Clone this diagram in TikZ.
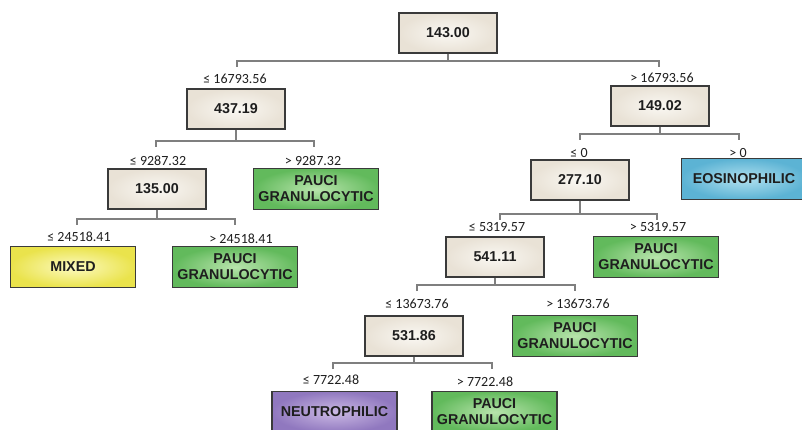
\documentclass[tikz,border=0pt]{standalone}
\usepackage{fontspec}
\setmainfont{Liberation Sans}
\newfontfamily\lblfont{Carlito}
\definecolor{connc}{HTML}{7F7F7F}
\definecolor{edgec}{HTML}{3A3A3A}
\definecolor{txtc}{HTML}{1E1E1E}
\definecolor{valin}{HTML}{FAF8F3}
\definecolor{valout}{HTML}{E9E2D6}
\definecolor{grin}{HTML}{B8E4AC}
\definecolor{grout}{HTML}{62BA5C}
\definecolor{yein}{HTML}{FCFAC0}
\definecolor{yeout}{HTML}{EAE34C}
\definecolor{blin}{HTML}{B0E0EF}
\definecolor{blout}{HTML}{5CB3D4}
\definecolor{puin}{HTML}{CBB9E4}
\definecolor{puout}{HTML}{9078BF}
\begin{document}
\begin{tikzpicture}[x=1pt,y=-1pt,
  box/.style={draw=edgec,line width=1.1pt,minimum width=98pt,minimum height=40pt,inner sep=0pt,align=center,
     font=\fontsize{14.3}{16}\selectfont\bfseries,text=txtc},
  valbox/.style={box,inner color=valin,outer color=valout},
  cls/.style={box,minimum width=125pt,minimum height=41pt},
  green/.style={cls,inner color=grin,outer color=grout},
  yel/.style={cls,inner color=yein,outer color=yeout},
  blu/.style={cls,inner color=blin,outer color=blout},
  pur/.style={cls,inner color=puin,outer color=puout},
  lbl/.style={font=\lblfont\fontsize{14}{16}\selectfont,text=txtc,inner sep=0pt},
  conn/.style={draw=connc,line width=1.4pt}]
\useasboundingbox (0,0) rectangle (802,430);
% nodes
\node[valbox] (root) at (448,33) {143.00};
\node[valbox] (n2) at (236,109) {437.19};
\node[valbox] (n3) at (660,106) {149.02};
\node[valbox] (n4) at (157,189) {135.00};
\node[green] (p1) at (316,189) {PAUCI\\GRANULOCYTIC};
\node[valbox] (n5) at (580,180) {277.10};
\node[blu] (eos) at (744,179) {EOSINOPHILIC};
\node[yel] (mix) at (73,267) {MIXED};
\node[green] (p2) at (235,267) {PAUCI\\GRANULOCYTIC};
\node[valbox] (n6) at (495,257) {541.11};
\node[green] (p3) at (656,257) {PAUCI\\GRANULOCYTIC};
\node[valbox] (n7) at (414,336) {531.86};
\node[green] (p4) at (575,336) {PAUCI\\GRANULOCYTIC};
\node[pur] (neu) at (334.5,412) {NEUTROPHILIC};
\node[green] (p5) at (494.5,412) {PAUCI\\GRANULOCYTIC};
% connector ends
\coordinate (rL) at (237,67); \coordinate (rR) at (659,67);
\coordinate (aL) at (156,147); \coordinate (aR) at (314,147);
\coordinate (bL) at (580,140); \coordinate (bR) at (739,140);
\coordinate (cL) at (77,225); \coordinate (cR) at (235,225);
\coordinate (dL) at (500,220); \coordinate (dR) at (657,220);
\coordinate (eL) at (417,291); \coordinate (eR) at (575,291);
\coordinate (fL) at (333,369); \coordinate (fR) at (492,369);
\foreach \p/\e in {root/r,n2/a,n3/b,n4/c,n5/d,n6/e,n7/f}{
  \draw[conn] (\e L) -- ++(0,-6) coordinate (\e T) -- (\e R |- \e T) -- (\e R);
  \draw[conn] (\p.south) -- (\p.south |- \e T);
}
% labels
\node[lbl] (l1) at (235,79) {≤ 16793.56};
\node[lbl] (l2) at (662,78) {> 16793.56};
\node[lbl] (l3) at (158,161) {≤ 9287.32};
\node[lbl] (l4) at (313,161) {> 9287.32};
\node[lbl] (l5) at (579,153) {≤ 0};
\node[lbl] (l6) at (738,153) {> 0};
\node[lbl] (l7) at (79,237) {≤ 24518.41};
\node[lbl] (l8) at (241,239) {> 24518.41};
\node[lbl] (l9) at (497,227) {≤ 5319.57};
\node[lbl] (l10) at (658,227) {> 5319.57};
\node[lbl] (l11) at (417,304) {≤ 13673.76};
\node[lbl] (l12) at (578,304) {> 13673.76};
\node[lbl] (l13) at (331,380) {≤ 7722.48};
\node[lbl] (l14) at (485,382) {> 7722.48};
\end{tikzpicture}
\end{document}
